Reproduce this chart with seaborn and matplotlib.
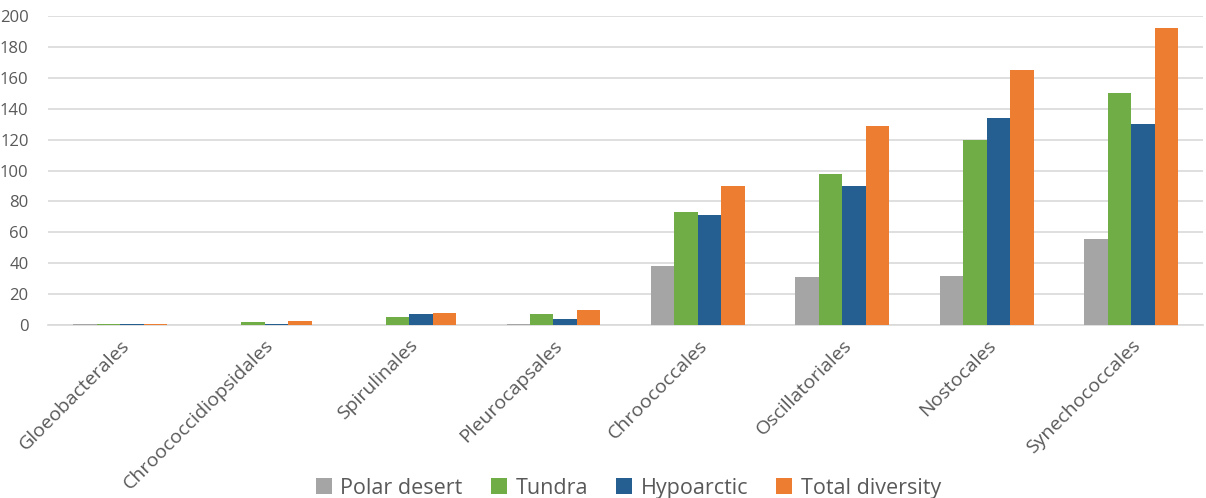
import matplotlib
matplotlib.use("Agg")
import matplotlib.pyplot as plt
import seaborn as sns
import pandas as pd
from matplotlib.patches import Patch

orders = ["Gloeobacterales", "Chroococcidiopsidales", "Spirulinales", "Pleurocapsales",
          "Chroococcales", "Oscillatoriales", "Nostocales", "Synechococcales"]
polar_desert = [1, 0, 0, 1, 38, 31, 32, 56]
tundra = [1, 2, 5, 7, 73, 98, 120, 150]
hypoarctic = [1, 1, 7, 4, 71, 90, 134, 130]
total_diversity = [1, 3, 8, 10, 90, 129, 165, 192]

series = ["Polar desert", "Tundra", "Hypoarctic", "Total diversity"]
colors = ["#A5A5A5", "#70AD47", "#255E91", "#ED7D31"]

df = pd.DataFrame({
    "order": orders * 4,
    "zone": sum([[s] * len(orders) for s in series], []),
    "count": polar_desert + tundra + hypoarctic + total_diversity,
})

sns.set_theme(style="white")
plt.rcParams["font.family"] = ["Open Sans", "DejaVu Sans"]

fig = plt.figure(figsize=(12.06, 4.98), dpi=100)
ax = fig.add_axes([0.0398, 0.347, 0.958, 0.621])

sns.barplot(data=df, x="order", y="count", hue="zone", order=orders,
            hue_order=series, palette=colors, width=0.65, saturation=1,
            linewidth=0, ax=ax, legend=False)
for p in ax.patches:
    p.set_zorder(3)

ax.set_ylim(0, 200)
ax.set_yticks(range(0, 201, 20))
ax.yaxis.grid(True, color="#D9D9D9", linewidth=1.2)
ax.set_axisbelow(True)
for s in ["top", "right", "left"]:
    ax.spines[s].set_visible(False)
ax.spines["bottom"].set_color("#D9D9D9")
ax.spines["bottom"].set_linewidth(1.2)
ax.spines["bottom"].set_zorder(1)
ax.set_xlabel("")
ax.set_ylabel("")
ax.tick_params(axis="y", length=0, labelsize=12, labelcolor="#595959", pad=14)
ax.tick_params(axis="x", length=0, labelsize=14, labelcolor="#595959", pad=8)
plt.setp(ax.get_xticklabels(), rotation=45, ha="right", rotation_mode="anchor")
ax.set_xlim(-0.5, len(orders) - 0.5)

handles = [Patch(facecolor=c, edgecolor="none", label=s) for s, c in zip(series, colors)]
fig.legend(handles=handles, loc="lower center", bbox_to_anchor=(0.521, -0.04), ncol=4,
           frameon=False, fontsize=15.5, handlelength=0.75, handleheight=0.75,
           handletextpad=0.4, columnspacing=1.3, labelcolor="#595959")

fig.savefig("out.png", dpi=100)
